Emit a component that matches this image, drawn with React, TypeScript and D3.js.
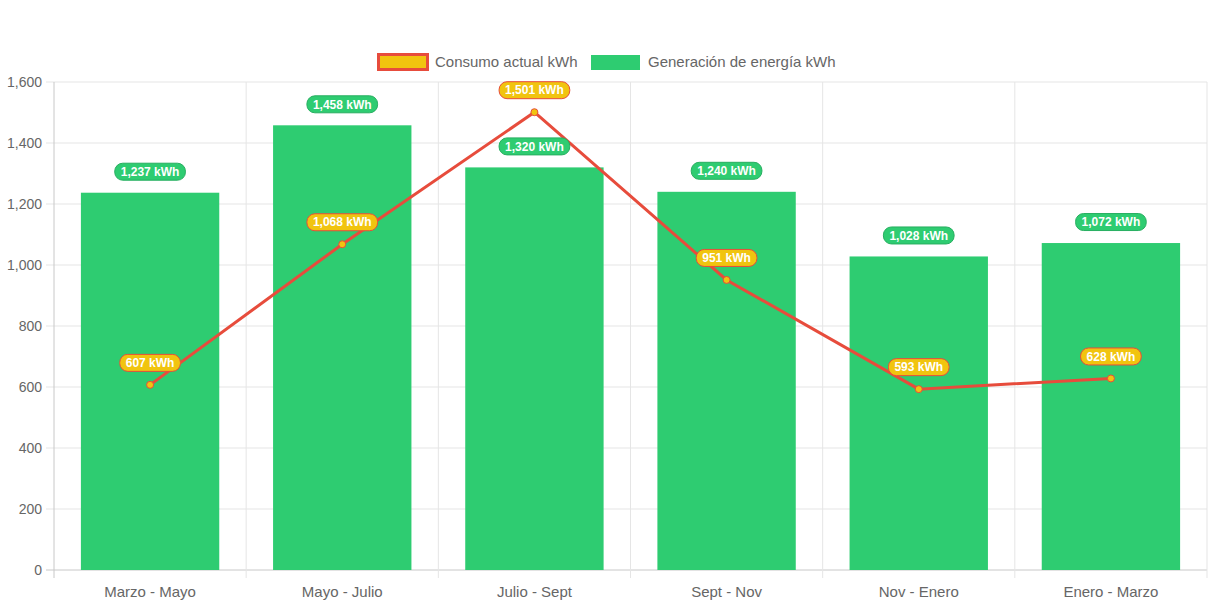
import React, { useRef, useEffect } from 'react';
import * as d3 from 'd3';

const categories = ['Marzo - Mayo', 'Mayo - Julio', 'Julio - Sept', 'Sept - Nov', 'Nov - Enero', 'Enero - Marzo'];
const consumo = [607, 1068, 1501, 951, 593, 628];
const generacion = [1237, 1458, 1320, 1240, 1028, 1072];
const yTicks = [0, 200, 400, 600, 800, 1000, 1200, 1400, 1600];
const seriesNames = ['Consumo actual kWh', 'Generación de energía kWh'];

const GREEN = '#2ecc71';
const GREEN_DARK = '#27ae60';
const YELLOW = '#f1c40f';
const RED = '#e74c3c';
const FONT = '"Liberation Sans", Arial, sans-serif';

const W = 1213;
const H = 606;

const App: React.FC = () => {
  const svgRef = useRef<SVGSVGElement>(null);

  useEffect(() => {
    if (!svgRef.current) return;
    const svg = d3.select(svgRef.current);
    svg.selectAll('*').remove();

    const left = 54, right = 1207, top = 82, bottom = 570;
    const x = d3.scaleBand<string>().domain(categories).range([left, right]).paddingInner(0).paddingOuter(0);
    const y = d3.scaleLinear().domain([0, 1600]).range([bottom, top]);
    const fmt = d3.format(',');

    // grid
    const grid = svg.append('g');
    grid.selectAll('.hg').data(yTicks).enter().append('line')
      .attr('x1', left - 8).attr('x2', right)
      .attr('y1', d => y(d)).attr('y2', d => y(d))
      .attr('stroke', (d) => d === 0 ? '#c8c8c8' : '#e5e5e5').attr('stroke-width', 1);
    const bounds = categories.map(c => x(c) as number).concat([right]);
    grid.selectAll('.vg').data(bounds).enter().append('line')
      .attr('x1', d => d).attr('x2', d => d)
      .attr('y1', top).attr('y2', bottom + 8)
      .attr('stroke', (_d, i) => i === 0 ? '#c8c8c8' : '#e5e5e5').attr('stroke-width', 1);

    // y labels
    svg.append('g').selectAll('text').data(yTicks).enter().append('text')
      .attr('x', left - 12).attr('y', d => y(d)).attr('dy', '0.35em')
      .attr('text-anchor', 'end').attr('fill', '#666')
      .style('font', `14px ${FONT}`).text(d => fmt(d));

    // x labels
    svg.append('g').selectAll('text').data(categories).enter().append('text')
      .attr('x', d => (x(d) as number) + x.bandwidth() / 2).attr('y', 592).attr('dy', '0.35em')
      .attr('text-anchor', 'middle').attr('fill', '#666')
      .style('font', `15px ${FONT}`).text(d => d);

    // bars
    const bw = x.bandwidth() * 0.72;
    svg.append('g').selectAll('rect').data(generacion).enter().append('rect')
      .attr('x', (_d, i) => (x(categories[i]) as number) + (x.bandwidth() - bw) / 2)
      .attr('width', bw)
      .attr('y', d => y(d)).attr('height', d => bottom - y(d))
      .attr('fill', GREEN);

    // line
    const cx = (i: number) => (x(categories[i]) as number) + x.bandwidth() / 2;
    const line = d3.line<number>().x((_d, i) => cx(i)).y(d => y(d));
    svg.append('path').datum(consumo).attr('d', line)
      .attr('fill', 'none').attr('stroke', RED).attr('stroke-width', 3);
    svg.append('g').selectAll('circle').data(consumo).enter().append('circle')
      .attr('cx', (_d, i) => cx(i)).attr('cy', d => y(d)).attr('r', 3.5)
      .attr('fill', YELLOW).attr('stroke', RED).attr('stroke-width', 1);

    // data labels
    const addLabel = (g: d3.Selection<SVGGElement, unknown, null, undefined>, px: number, py: number, txt: string, bg: string, border: string) => {
      const lg = g.append('g');
      const rect = lg.append('rect');
      const t = lg.append('text')
        .attr('x', px).attr('y', py).attr('dy', '0.35em')
        .attr('text-anchor', 'middle').attr('fill', '#fff')
        .style('font', `bold 12px ${FONT}`).text(txt);
      const tw = (t.node() as SVGTextElement).getComputedTextLength();
      const w = tw + 12, h = 17;
      rect.attr('x', px - w / 2).attr('y', py - h / 2).attr('width', w).attr('height', h)
        .attr('rx', 8).attr('ry', 8)
        .attr('fill', bg).attr('stroke', border).attr('stroke-width', 1);
    };
    const labels = svg.append('g');
    generacion.forEach((v, i) => addLabel(labels, cx(i), y(v) - 21, `${fmt(v)} kWh`, GREEN, GREEN_DARK));
    consumo.forEach((v, i) => addLabel(labels, cx(i), y(v) - 22, `${fmt(v)} kWh`, YELLOW, RED));

    // legend
    const lg = svg.append('g');
    lg.append('rect').attr('x', 378.5).attr('y', 54.5).attr('width', 49).attr('height', 15)
      .attr('fill', YELLOW).attr('stroke', RED).attr('stroke-width', 3);
    lg.append('text').attr('x', 435).attr('y', 62).attr('dy', '0.35em').attr('fill', '#666')
      .style('font', `15px ${FONT}`).text(seriesNames[0]);
    lg.append('rect').attr('x', 591).attr('y', 55).attr('width', 49).attr('height', 15)
      .attr('fill', GREEN);
    lg.append('text').attr('x', 648).attr('y', 62).attr('dy', '0.35em').attr('fill', '#666')
      .style('font', `15px ${FONT}`).text(seriesNames[1]);
  }, []);

  return (
    <div style={{ position: 'absolute', left: 0, top: 0 }}>
      <svg ref={svgRef} width={W} height={H} style={{ display: 'block', background: '#fff' }}></svg>
    </div>
  );
};

export default App;
